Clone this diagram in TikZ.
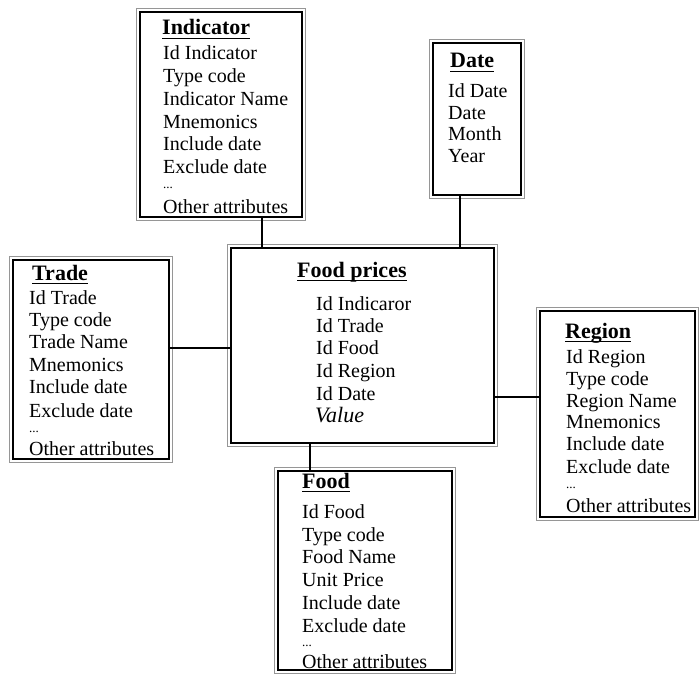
\documentclass[tikz,border=0pt]{standalone}
\usepackage{fontspec}
\setmainfont{Liberation Serif}
\definecolor{framegray}{RGB}{150,150,150}
\begin{document}
\begin{tikzpicture}[x=1pt,y=-1pt,
  entity/.style={draw=black, line width=1.2pt, rectangle, inner sep=0pt, fill=white},
  frame/.style={draw=framegray, line width=1.4pt},
  ttl/.style={anchor=base west, inner sep=0pt, font=\fontsize{22}{24}\selectfont\bfseries},
  itm/.style={anchor=base west, inner sep=0pt, font=\fontsize{20}{22}\selectfont},
  dots/.style={anchor=base west, inner sep=0pt, font=\fontsize{13}{15}\selectfont},
  link/.style={draw=black, line width=1.2pt},
  uline/.style={draw=black, line width=1.3pt}]
\useasboundingbox[fill=white] (0,0) rectangle (700,674);

% entity boxes (inner black border)
\node[entity, minimum width=162pt, minimum height=205pt] (ind) at (221,114.5) {};
\node[entity, minimum width=88pt,  minimum height=152pt] (dat) at (477,119) {};
\node[entity, minimum width=263pt, minimum height=195pt] (fp)  at (362.5,345.5) {};
\node[entity, minimum width=156pt, minimum height=199pt] (trd) at (91,359.5) {};
\node[entity, minimum width=155pt, minimum height=206pt] (reg) at (617.5,414) {};
\node[entity, minimum width=174pt, minimum height=199pt] (food) at (365,570.5) {};

% outer grey frames
\foreach \b in {ind,dat,fp,trd,reg,food}
  \draw[frame] ([xshift=-3pt,yshift=3pt]\b.north west) rectangle ([xshift=3pt,yshift=-3pt]\b.south east);

% connectors
\coordinate (xi) at (262,0);
\coordinate (xd) at (460,0);
\coordinate (xf) at (310,0);
\coordinate (yt) at (0,348);
\coordinate (yr) at (0,397);
\draw[link] (ind.south -| xi) -- (fp.north -| xi);
\draw[link] (dat.south -| xd) -- (fp.north -| xd);
\draw[link] (trd.east |- yt) -- (fp.west |- yt);
\draw[link] (fp.east |- yr) -- (reg.west |- yr);
\draw[link] (fp.south -| xf) -- (food.north -| xf);

% Indicator
\node[ttl] (tind) at (162,35) {Indicator};
\draw[uline] ([yshift=-3.5pt]tind.base west) -- ([yshift=-3.5pt]tind.base east);
\foreach \t/\y [count=\i] in {Id Indicator/60, Type code/83, Indicator Name/106, Mnemonics/128, Include date/150, Exclude date/173, Other attributes/213}
  \node[itm] (ind\i) at (163,\y) {\t};
\node[dots] (inddots) at (163,188) {...};

% Date
\node[ttl] (tdat) at (450,68) {Date};
\draw[uline] ([yshift=-3.5pt]tdat.base west) -- ([yshift=-3.5pt]tdat.base east);
\foreach \t/\y [count=\i] in {Id Date/97, Date/119, Month/140, Year/162}
  \node[itm] (dat\i) at (448,\y) {\t};

% Food prices
\node[ttl] (tfp) at (297,277) {Food prices};
\draw[uline] ([yshift=-3.5pt]tfp.base west) -- ([yshift=-3.5pt]tfp.base east);
\foreach \t/\y [count=\i] in {Id Indicaror/310, Id Trade/332, Id Food/354, Id Region/377, Id Date/400}
  \node[itm] (fp\i) at (316,\y) {\t};
\node[itm, font=\fontsize{22}{24}\selectfont\itshape] (fpval) at (315,422) {Value};

% Trade
\node[ttl] (ttrd) at (32,280) {Trade};
\draw[uline] ([yshift=-3.5pt]ttrd.base west) -- ([yshift=-3.5pt]ttrd.base east);
\foreach \t/\y [count=\i] in {Id Trade/304, Type code/326, Trade Name/348, Mnemonics/371, Include date/393, Exclude date/417, Other attributes/455}
  \node[itm] (trd\i) at (29,\y) {\t};
\node[dots] (trddots) at (29,432) {...};

% Region
\node[ttl] (treg) at (565,338) {Region};
\draw[uline] ([yshift=-3.5pt]treg.base west) -- ([yshift=-3.5pt]treg.base east);
\foreach \t/\y [count=\i] in {Id Region/363, Type code/385, Region Name/407, Mnemonics/428, Include date/450, Exclude date/473, Other attributes/512}
  \node[itm] (reg\i) at (566,\y) {\t};
\node[dots] (regdots) at (566,488) {...};

% Food
\node[ttl] (tfood) at (302,488) {Food};
\draw[uline] ([yshift=-3.5pt]tfood.base west) -- ([yshift=-3.5pt]tfood.base east);
\foreach \t/\y [count=\i] in {Id Food/518, Type code/541, Food Name/563, Unit Price/586, Include date/609, Exclude date/632, Other attributes/668}
  \node[itm] (food\i) at (302,\y) {\t};
\node[dots] (fooddots) at (302,646) {...};
\end{tikzpicture}
\end{document}
